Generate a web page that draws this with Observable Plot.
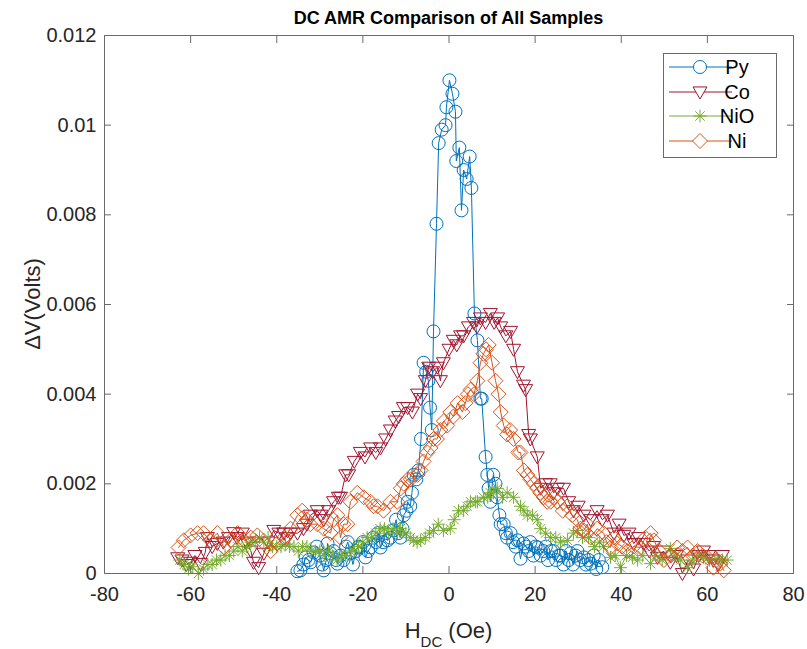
<!DOCTYPE html>
<html><head><meta charset="utf-8">
<script src="https://cdn.jsdelivr.net/npm/d3@7"></script>
<script src="https://cdn.jsdelivr.net/npm/@observablehq/plot@0.6"></script>
<style>
body{margin:0;background:#fff;}
#chart svg{font-family:"Liberation Sans",Arial,Helvetica,sans-serif;}
</style>
</head><body><div id="chart"></div>
<script>
// ---- Data (H_DC in Oe, ΔV in Volts) ----
const pyX = [-35.2,-34.5,-33.8,-33.3,-32.6,-32.1,-31.4,-30.7,-30.0,-29.4,-29.1,-28.5,-28.2,-27.5,-26.8,-26.2,-25.9,-25.2,-24.5,-23.9,-23.5,-22.9,-22.3,-21.6,-21.0,-20.6,-20.0,-19.4,-18.8,-18.2,-17.6,-17.0,-16.5,-15.9,-15.3,-14.7,-14.3,-13.6,-12.9,-12.3,-11.8,-11.3,-10.8,-10.5,-9.9,-9.6,-9.0,-8.6,-8.2,-7.6,-7.1,-6.5,-5.9,-5.3,-4.8,-4.4,-4.0,-3.6,-2.9,-2.4,-1.7,-0.8,-0.6,0.1,0.8,1.5,1.7,2.4,2.9,3.4,4.1,4.8,5.2,5.9,6.6,7.3,7.6,8.5,8.9,9.2,9.6,10.3,10.8,11.2,11.7,12.0,12.7,13.2,13.5,14.3,14.9,15.5,15.9,16.6,17.3,17.9,18.5,18.9,19.6,20.1,20.6,21.3,21.9,22.5,23.0,23.7,24.3,24.9,25.5,25.9,26.6,27.2,27.8,28.2,28.8,29.4,29.8,30.5,31.3,31.8,32.4,32.9,33.6,34.2,34.8,35.6];
const pyY = [0.00005,0.00007,0.0002,0.00036,0.0003,0.00025,0.00047,0.0006,0.0004,0.0002,0.00007,0.0003,0.00067,0.00045,0.0005,0.0003,0.00022,0.0004,0.0003,0.0006,0.0007,0.00045,0.0002,0.0005,0.0006,0.00058,0.0007,0.00036,0.0005,0.00058,0.0008,0.0007,0.0009,0.00058,0.0007,0.0009,0.00074,0.0008,0.00096,0.0012,0.0009,0.0008,0.0010,0.0013,0.0014,0.0016,0.0015,0.0018,0.0022,0.0021,0.0023,0.0030,0.0047,0.0045,0.0043,0.0037,0.0032,0.0054,0.0078,0.0096,0.0099,0.0100,0.0104,0.0110,0.0107,0.0103,0.0092,0.0095,0.0081,0.0090,0.0088,0.0093,0.0086,0.0058,0.0052,0.0039,0.0039,0.0026,0.0022,0.0019,0.0016,0.0022,0.0020,0.0017,0.0013,0.0011,0.0011,0.0009,0.0008,0.0009,0.0007,0.0006,0.00074,0.00033,0.00067,0.0006,0.0005,0.0007,0.0004,0.0006,0.00058,0.0004,0.0005,0.0006,0.0003,0.0005,0.0005,0.0003,0.0004,0.0004,0.0002,0.0005,0.0003,0.00045,0.0002,0.0004,0.0005,0.0003,0.00036,0.0002,0.0003,0.00022,0.0004,0.0001,0.0003,0.00014];

const coX = [-63.0,-62.0,-61.0,-60.0,-59.0,-57.7,-56.6,-56.1,-55.0,-53.8,-52.4,-51.2,-50.0,-49.2,-48.0,-47.0,-46.0,-45.4,-44.2,-43.0,-42.0,-40.7,-39.5,-38.4,-37.5,-36.8,-35.2,-33.8,-33.0,-32.2,-30.6,-29.8,-29.1,-28.0,-26.8,-25.7,-25.2,-24.0,-23.3,-22.0,-20.6,-19.5,-18.2,-17.0,-15.9,-14.7,-13.6,-12.5,-11.7,-10.6,-9.6,-8.5,-7.3,-6.6,-5.5,-4.7,-3.8,-2.7,-2.0,-1.3,0.0,1.0,1.8,2.7,3.4,4.5,5.7,6.5,7.3,8.5,9.6,10.5,11.3,12.0,13.2,14.3,15.0,15.9,17.3,17.8,18.5,18.9,20.5,21.3,22.4,23.5,24.3,25.2,26.6,27.8,28.9,30.0,31.3,32.9,34.4,35.6,36.8,38.3,39.5,40.6,41.8,42.9,44.0,45.2,46.5,47.5,48.4,49.8,51.4,52.8,54.2,55.5,56.8,58.0,59.1,60.3,61.4,62.5,63.5];
const coY = [0.00035,0.0003,0.0002,0.00025,0.0004,0.00022,0.00047,0.0008,0.0006,0.00067,0.0007,0.0008,0.00091,0.0008,0.0009,0.0007,0.0005,0.00025,0.00013,0.00045,0.0007,0.00096,0.0009,0.0009,0.0008,0.0009,0.0009,0.0010,0.0011,0.0013,0.0014,0.0013,0.0012,0.0014,0.0016,0.0017,0.0017,0.0022,0.0022,0.0025,0.0027,0.0026,0.0028,0.0027,0.0028,0.0030,0.0032,0.0034,0.0035,0.0037,0.0037,0.0036,0.0040,0.0039,0.0043,0.0046,0.0045,0.0046,0.0043,0.0047,0.0050,0.0052,0.0051,0.0053,0.0053,0.0055,0.0056,0.0055,0.0057,0.0056,0.0058,0.0056,0.0057,0.0055,0.0053,0.0054,0.0050,0.0045,0.0042,0.0041,0.0031,0.0030,0.0026,0.0019,0.0020,0.0020,0.0018,0.0019,0.0019,0.0016,0.0014,0.0015,0.0013,0.0012,0.0014,0.0012,0.0013,0.0009,0.0011,0.00085,0.0009,0.00067,0.0008,0.00067,0.0005,0.0006,0.00036,0.0005,0.00025,0.0004,0.0000,0.0003,0.0001,0.0004,0.0005,0.0004,0.0003,0.0002,0.0004];

const nioX = [-62.5,-61.5,-60.5,-59.5,-58.2,-57.0,-56.0,-55.0,-54.0,-53.0,-52.0,-51.0,-50.0,-49.0,-48.0,-47.0,-46.0,-45.0,-44.0,-43.0,-42.0,-41.0,-40.0,-39.0,-38.0,-37.0,-36.0,-35.0,-34.0,-33.0,-32.0,-31.0,-30.0,-29.0,-28.0,-27.0,-26.0,-25.0,-24.0,-23.0,-22.0,-21.0,-20.0,-19.0,-18.0,-17.0,-16.0,-15.0,-14.0,-13.0,-12.0,-11.3,-10.0,-9.0,-8.2,-7.4,-6.6,-5.5,-4.5,-3.6,-2.5,-1.3,0.3,1.2,2.2,3.4,4.2,5.0,6.2,6.6,8.0,9.0,9.6,10.3,11.2,12.4,13.5,15.0,16.6,17.4,18.2,19.4,20.5,21.3,22.4,23.6,24.8,25.9,27.5,28.9,29.8,31.0,32.4,33.8,35.0,35.9,37.5,38.6,39.8,41.2,42.6,43.8,45.0,46.8,48.0,49.5,51.4,52.5,53.8,55.4,56.5,57.8,59.1,60.5,62.3,63.5,64.6];
const nioY = [0.0003,0.0002,0.0001,0.00015,0.0000,0.0001,0.0002,0.0002,0.0003,0.0003,0.0004,0.0004,0.0005,0.0006,0.0005,0.0006,0.0007,0.0007,0.0008,0.0007,0.0008,0.0006,0.0006,0.0006,0.00065,0.0006,0.0006,0.0005,0.0006,0.0006,0.0005,0.0005,0.0005,0.0004,0.0005,0.0004,0.0003,0.0004,0.0004,0.0005,0.0005,0.0006,0.0007,0.0008,0.0008,0.0009,0.0010,0.0010,0.0009,0.0010,0.0009,0.0010,0.0009,0.0008,0.00074,0.0007,0.00074,0.0008,0.0009,0.00096,0.0011,0.00096,0.0010,0.0012,0.0014,0.0014,0.0015,0.0016,0.0016,0.0016,0.0017,0.0017,0.0018,0.0018,0.0019,0.0017,0.0018,0.0017,0.0015,0.0014,0.0013,0.0013,0.0012,0.0010,0.0009,0.0008,0.0008,0.0007,0.00074,0.0009,0.00096,0.0008,0.0008,0.0006,0.0007,0.0006,0.00036,0.0004,0.00013,0.0004,0.00036,0.0003,0.0004,0.00022,0.0004,0.0003,0.00056,0.0004,0.0003,0.00013,0.0003,0.0004,0.00036,0.0003,0.00033,0.0003,0.0003];

const niX = [-62.8,-61.6,-60.0,-58.4,-57.0,-55.4,-53.8,-52.3,-50.7,-49.1,-47.6,-46.0,-44.5,-42.9,-41.4,-39.9,-38.3,-36.8,-35.2,-34.1,-33.0,-32.2,-30.6,-29.1,-27.5,-26.8,-25.9,-25.2,-24.5,-23.6,-22.9,-21.3,-19.8,-18.2,-17.5,-16.6,-15.2,-13.6,-12.0,-11.2,-10.5,-9.6,-8.9,-7.3,-6.6,-5.9,-5.0,-4.3,-3.6,-2.8,-2.0,-1.2,-0.4,0.3,1.0,2.0,3.1,3.8,4.4,5.0,5.8,6.6,7.3,8.0,8.6,9.2,10.0,10.8,11.5,12.0,12.7,13.5,14.2,15.0,16.1,16.6,17.4,18.2,18.9,19.7,20.5,21.2,22.0,22.8,23.6,24.4,25.2,26.4,27.5,28.6,29.8,30.5,31.3,32.1,32.9,34.4,35.9,36.6,37.5,38.3,39.1,40.2,41.4,42.9,44.5,45.6,46.8,47.6,48.8,49.9,51.5,53.0,54.2,55.4,56.6,57.7,58.9,60.0,61.4,62.2,63.0,63.8];
const niY = [0.00058,0.00074,0.00085,0.0009,0.0009,0.00074,0.0009,0.00058,0.00074,0.0009,0.00074,0.0008,0.00085,0.00067,0.0005,0.00067,0.0008,0.0010,0.0013,0.0014,0.0012,0.0011,0.0011,0.0010,0.0009,0.0012,0.0013,0.0008,0.0011,0.0011,0.0016,0.0018,0.0017,0.0016,0.0015,0.0015,0.0014,0.0016,0.0016,0.0019,0.0020,0.0021,0.0021,0.0022,0.0023,0.0025,0.0027,0.0028,0.0030,0.0030,0.0032,0.0034,0.0033,0.0036,0.0035,0.0038,0.0036,0.0038,0.0040,0.0041,0.0040,0.0043,0.0047,0.0049,0.0050,0.0051,0.0047,0.0043,0.0040,0.0036,0.0033,0.0031,0.0032,0.0030,0.0027,0.0027,0.0023,0.0022,0.0021,0.0020,0.0019,0.0018,0.0017,0.0016,0.0016,0.0017,0.0016,0.0014,0.0015,0.0013,0.0012,0.0010,0.00096,0.0011,0.0008,0.0010,0.0009,0.0007,0.00058,0.0008,0.00067,0.0006,0.0005,0.0006,0.00058,0.0008,0.0009,0.00074,0.0005,0.0003,0.0004,0.00058,0.0005,0.00058,0.0004,0.0005,0.0004,0.00036,0.00013,0.0003,0.00022,0.00007];

const seriesNames = ["Py","Co","NiO","Ni"];
const seriesColors = ["#0072BD","#A2142F","#77AC30","#D95319"];
const xTicks = [-80,-60,-40,-20,0,20,40,60,80];
const xTickLabels = ["-80","-60","-40","-20","0","20","40","60","80"];
const yTicks = [0,0.002,0.004,0.006,0.008,0.010,0.012];
const yTickLabels = ["0","0.002","0.004","0.006","0.008","0.01","0.012"];
const titleText = "DC AMR Comparison of All Samples";

// ---- MATLAB-like marker symbols ----
const rad = s => Math.sqrt(s / Math.PI);
const symCircle = {draw(c, s){const r = rad(s); c.moveTo(r,0); c.arc(0,0,r,0,2*Math.PI);}};
const symTriDown = {draw(c, s){const r = rad(s); c.moveTo(-r,-0.72*r); c.lineTo(r,-0.72*r); c.lineTo(0,r); c.closePath();}};
const symStar = {draw(c, s){const r = rad(s), d = r*0.72;
  c.moveTo(-r,0); c.lineTo(r,0); c.moveTo(0,-r); c.lineTo(0,r);
  c.moveTo(-d,-d); c.lineTo(d,d); c.moveTo(-d,d); c.lineTo(d,-d);}};
const symDiamond = {draw(c, s){const r = rad(s); c.moveTo(0,-r); c.lineTo(r,0); c.lineTo(0,r); c.lineTo(-r,0); c.closePath();}};
const symbols = [symCircle, symTriDown, symStar, symDiamond];
const radii = [6.5, 7, 6.5, 7.5];

const xs = [pyX, coX, nioX, niX], ys = [pyY, coY, nioY, niY];
const seriesData = seriesNames.map((name, k) => xs[k].map((x, i) => ({x, y: ys[k][i], name})));

const dataMarks = seriesData.flatMap((rows, k) => [
  Plot.line(rows, {x: "x", y: "y", stroke: seriesColors[k], strokeWidth: 1}),
  Plot.dot(rows, {x: "x", y: "y", symbol: symbols[k], r: radii[k], stroke: seriesColors[k], fill: "none", strokeWidth: 1})
]);

const textColor = "#262626";
const axisColor = "#6b6b6b";
const W = 807, H = 649, mL = 104, mR = 14, mT = 35, mB = 76;

const chart = Plot.plot({
  width: W, height: H,
  marginLeft: mL, marginRight: mR, marginTop: mT, marginBottom: mB,
  style: {fontFamily: '"Liberation Sans", Arial, sans-serif', fontSize: "20px", color: textColor, background: "white", overflow: "visible"},
  x: {domain: [-80, 80]},
  y: {domain: [0, 0.012]},
  marks: [
    ...dataMarks,
    Plot.frame({stroke: axisColor, strokeWidth: 1}),
    Plot.axisX({ticks: xTicks, tickSize: -7, tickPadding: 20, tickFormat: d => xTickLabels[xTicks.indexOf(d)], label: null, stroke: axisColor, fill: textColor}),
    Plot.axisX({anchor: "top", ticks: xTicks, tickSize: -7, tickFormat: () => "", label: null, stroke: axisColor}),
    Plot.axisY({ticks: yTicks, tickSize: -7, tickPadding: 15, tickFormat: d => yTickLabels[yTicks.findIndex(t => Math.abs(t - d) < 1e-9)], label: null, stroke: axisColor, fill: textColor}),
    Plot.axisY({anchor: "right", ticks: yTicks, tickSize: -7, tickFormat: () => "", label: null, stroke: axisColor})
  ]
});
document.getElementById("chart").appendChild(chart);

// ---- Titles, labels, legend ----
const svg = d3.select(chart);
const cx = mL + (W - mL - mR) / 2;
svg.append("text").attr("x", cx).attr("y", 24).attr("text-anchor", "middle")
  .attr("font-weight", "bold").attr("font-size", 18).attr("fill", "#000").text(titleText);

const xl = svg.append("text").attr("x", cx).attr("y", 638).attr("text-anchor", "middle")
  .attr("font-size", 22).attr("fill", textColor);
xl.append("tspan").text("H");
xl.append("tspan").attr("baseline-shift", "sub").attr("font-size", 15).text("DC");
xl.append("tspan").text(" (Oe)");

svg.append("text").attr("transform", `translate(40,${mT + (H - mT - mB) / 2}) rotate(-90)`)
  .attr("text-anchor", "middle").attr("font-size", 22).attr("fill", textColor).text("ΔV(Volts)");

const lg = svg.append("g");
lg.append("rect").attr("x", 663.5).attr("y", 53.5).attr("width", 113).attr("height", 104)
  .attr("fill", "white").attr("stroke", axisColor).attr("stroke-width", 1);
const legendY = [67, 92, 116, 141];
seriesNames.forEach((name, k) => {
  const y = legendY[k];
  lg.append("line").attr("x1", 669).attr("x2", 732).attr("y1", y).attr("y2", y)
    .attr("stroke", seriesColors[k]).attr("stroke-width", 1);
  const p = d3.path(); symbols[k].draw(p, Math.PI * radii[k] * radii[k]);
  lg.append("path").attr("d", p.toString()).attr("transform", `translate(700,${y})`)
    .attr("fill", "white").attr("stroke", seriesColors[k]).attr("stroke-width", 1);
  lg.append("text").attr("x", 737).attr("y", y).attr("dy", "0.35em").attr("font-size", 20)
    .attr("fill", "#000").text(name);
});
</script>
</body></html>
